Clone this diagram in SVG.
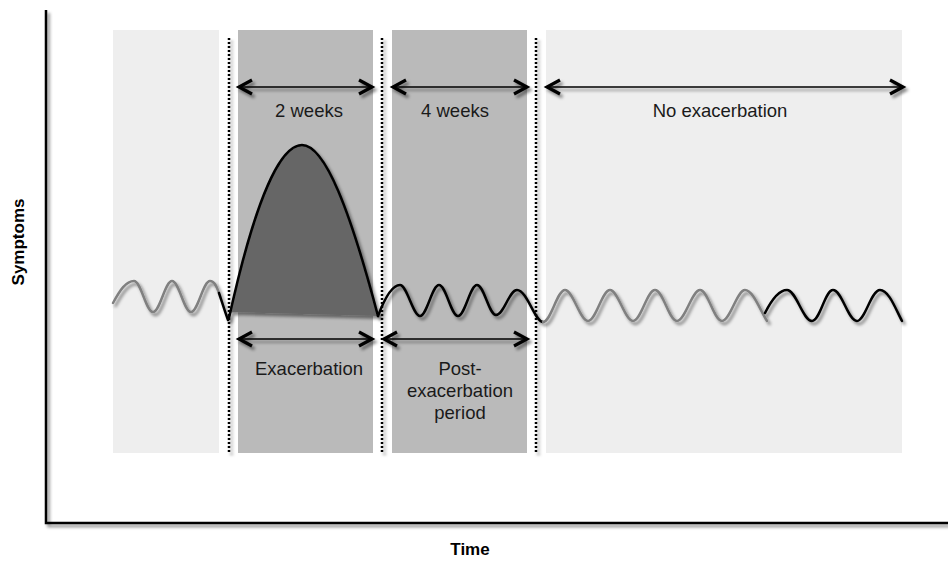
<svg xmlns="http://www.w3.org/2000/svg" width="948" height="567" viewBox="0 0 948 567">
<defs>
<style>
.lbl{font-family:"Liberation Sans",Arial,sans-serif;font-size:18.5px;fill:#1a1a1a;text-anchor:middle}
.ax{font-family:"Liberation Sans",Arial,sans-serif;font-size:17px;font-weight:bold;fill:#000;text-anchor:middle}
.light{fill:#eeeeee}
.mid{fill:#bababa}
.dot{stroke:#000;stroke-width:2.5;stroke-dasharray:2 2;fill:none}
.arr{stroke:#000;stroke-width:1.6;fill:none;marker-start:url(#ah);marker-end:url(#ah)}
.wave{fill:none;stroke-width:2.5;stroke-linejoin:round;stroke-linecap:round}
</style>
<filter id="sh" x="-10%" y="-10%" width="130%" height="130%">
<feDropShadow dx="2.5" dy="3" stdDeviation="1.5" flood-color="#000" flood-opacity="0.45"/>
</filter>
<marker id="ah" markerUnits="userSpaceOnUse" viewBox="-16 -9 18 18" refX="0" refY="0" markerWidth="18" markerHeight="18" orient="auto-start-reverse" overflow="visible">
<path d="M-13,-7 L0,0 L-13,7" fill="none" stroke="#000" stroke-width="3.2" stroke-linejoin="miter"/>
</marker>
</defs>
<g id="panels">
<rect class="light" x="113" y="30" width="106" height="423"/>
<rect class="mid" x="238" y="30" width="135" height="423"/>
<rect class="mid" x="392" y="30" width="135" height="423"/>
<rect class="light" x="546" y="30" width="356" height="423"/>
</g>
<g id="dividers" filter="url(#sh)">
<line class="dot" x1="229" y1="38" x2="229" y2="453"/>
<line class="dot" x1="382" y1="38" x2="382" y2="453"/>
<line class="dot" x1="536" y1="38" x2="536" y2="453"/>
</g>
<g id="axes" filter="url(#sh)">
<path d="M46,10 L46,523 L948,523" fill="none" stroke="#000" stroke-width="2.5"/>
</g>
<g id="exacerbation-peak" filter="url(#sh)">
<path d="M229,318 C255,200 280,145 302,145 C325,145 350,210 378,316 L230,312 Z" fill="#666666"/>
<path d="M229,318 C255,200 280,145 302,145 C325,145 350,210 378,316" class="wave" stroke="#000"/>
</g>
<g id="waves" filter="url(#sh)">
<path class="wave" stroke="#808080" d="M113,303 C120,290 126,281 134,281 C141,281 146,312 153,312 C160,312 165,281 172,281 C179,281 184,312 191,312 C198,312 203,281 210,281 C215,281 217,288 219,293"/>
<path class="wave" stroke="#000" d="M219,293 C222,302 225,312 228,320"/>
<path class="wave" stroke="#000" d="M378,316 C384,300 392,285 400,285 C407,285 413,316 420,316 C427,316 432,285 439,285 C446,285 451,316 458,316 C465,316 470,285 477,285 C484,285 489,315 496,315 C504,315 509,290 517,290 C527,290 535,322 543,322"/>
<path class="wave" stroke="#808080" d="M543,322 C551,322 557,290 565,290 C573,290 580,321 588,321 C596,321 602,290 610,290 C618,290 625,321 633,321 C641,321 647,290 655,290 C663,290 669,321 677,321 C685,321 692,290 700,290 C708,290 714,321 722,321 C730,321 737,290 745,290 C753,290 760,310 767,321"/>
<path class="wave" stroke="#000" d="M765,313 C770,303 778,290 787,290 C796,290 803,321 812,321 C820,321 825,290 833,290 C842,290 848,321 857,321 C865,321 871,290 880,290 C889,290 896,310 902,321"/>
</g>
<g id="connectors" filter="url(#sh)">
<line class="arr" x1="239" y1="87" x2="372" y2="87"/>
<line class="arr" x1="393" y1="87" x2="527" y2="87"/>
<line class="arr" x1="547" y1="87" x2="903" y2="87"/>
<line class="arr" x1="239" y1="339" x2="372" y2="339"/>
<line class="arr" x1="384" y1="339" x2="527" y2="339"/>
</g>
<g id="label-2weeks"><text class="lbl" x="309" y="117">2 weeks</text></g>
<g id="label-4weeks"><text class="lbl" x="455" y="117">4 weeks</text></g>
<g id="label-noexac"><text class="lbl" x="720" y="117">No exacerbation</text></g>
<g id="label-exac"><text class="lbl" x="309" y="375">Exacerbation</text></g>
<g id="label-post"><text class="lbl" x="460" y="375">Post-</text><text class="lbl" x="460" y="397">exacerbation</text><text class="lbl" x="460" y="419">period</text></g>
<g id="axis-y-label"><text class="ax" transform="translate(24,242) rotate(-90)">Symptoms</text></g>
<g id="axis-x-label"><text class="ax" x="470" y="555">Time</text></g>
</svg>
